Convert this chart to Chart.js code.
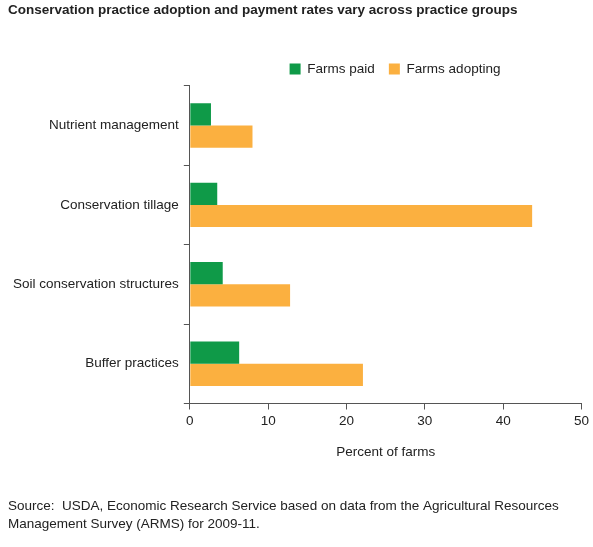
<!DOCTYPE html><html><head><script src="https://cdn.jsdelivr.net/npm/chart.js@4"></script>
<style>body{margin:0;background:#fff}</style></head><body>
<div style="width:593px;height:547px"><canvas id="c"></canvas></div>
<script>
const categories=["Nutrient management","Conservation tillage","Soil conservation structures","Buffer practices"];
const farmsPaid=[2.7,3.5,4.2,6.3];
const farmsAdopting=[8.0,43.7,12.8,22.1];
const xTicks=[0,10,20,30,40,50];
const F="'Liberation Sans', Arial, sans-serif";
const shiftLegend={id:'shiftLegend',afterLayout(ch){if(ch.legend){ch.legend.left+=95;ch.legend.right+=95;}}};
new Chart(document.getElementById('c'),{type:'bar',
data:{labels:categories,datasets:[
{label:'Farms paid',data:farmsPaid,backgroundColor:'#0f9a48'},
{label:'Farms adopting',data:farmsAdopting,backgroundColor:'#fbb040'}]},
plugins:[shiftLegend],
options:{indexAxis:'y',responsive:true,maintainAspectRatio:false,animation:false,
layout:{padding:{left:8,right:1,top:0,bottom:14}},
datasets:{bar:{categoryPercentage:0.56,barPercentage:1}},
plugins:{tooltip:{enabled:false},
title:{display:true,text:'Conservation practice adoption and payment rates vary across practice groups',align:'start',color:'#222',font:{family:F,size:13.5,weight:'bold'},padding:{top:2,bottom:30}},
legend:{position:'top',labels:{boxWidth:11,boxHeight:11,color:'#222',font:{family:F,size:13.5},padding:14},padding:0},
subtitle:{display:true,position:'bottom',align:'start',text:['Source:  USDA, Economic Research Service based on data from the Agricultural Resources','Management Survey (ARMS) for 2009-11.'],color:'#222',font:{family:F,size:13.5,lineHeight:1.3},padding:{top:34,bottom:0}}},
scales:{
x:{min:0,max:50,afterBuildTicks:a=>{a.ticks=xTicks.map(v=>({value:v}))},
grid:{drawOnChartArea:false,tickLength:6,color:'#555'},border:{color:'#555'},
ticks:{color:'#222',font:{family:F,size:13.5},padding:4},
title:{display:true,text:'Percent of farms',color:'#222',font:{family:F,size:13.5},padding:{top:10}}},
y:{grid:{offset:true,drawOnChartArea:false,tickLength:6,color:'#555'},border:{color:'#555'},
ticks:{color:'#222',font:{family:F,size:13.5},padding:5}}}}});
</script></body></html>
